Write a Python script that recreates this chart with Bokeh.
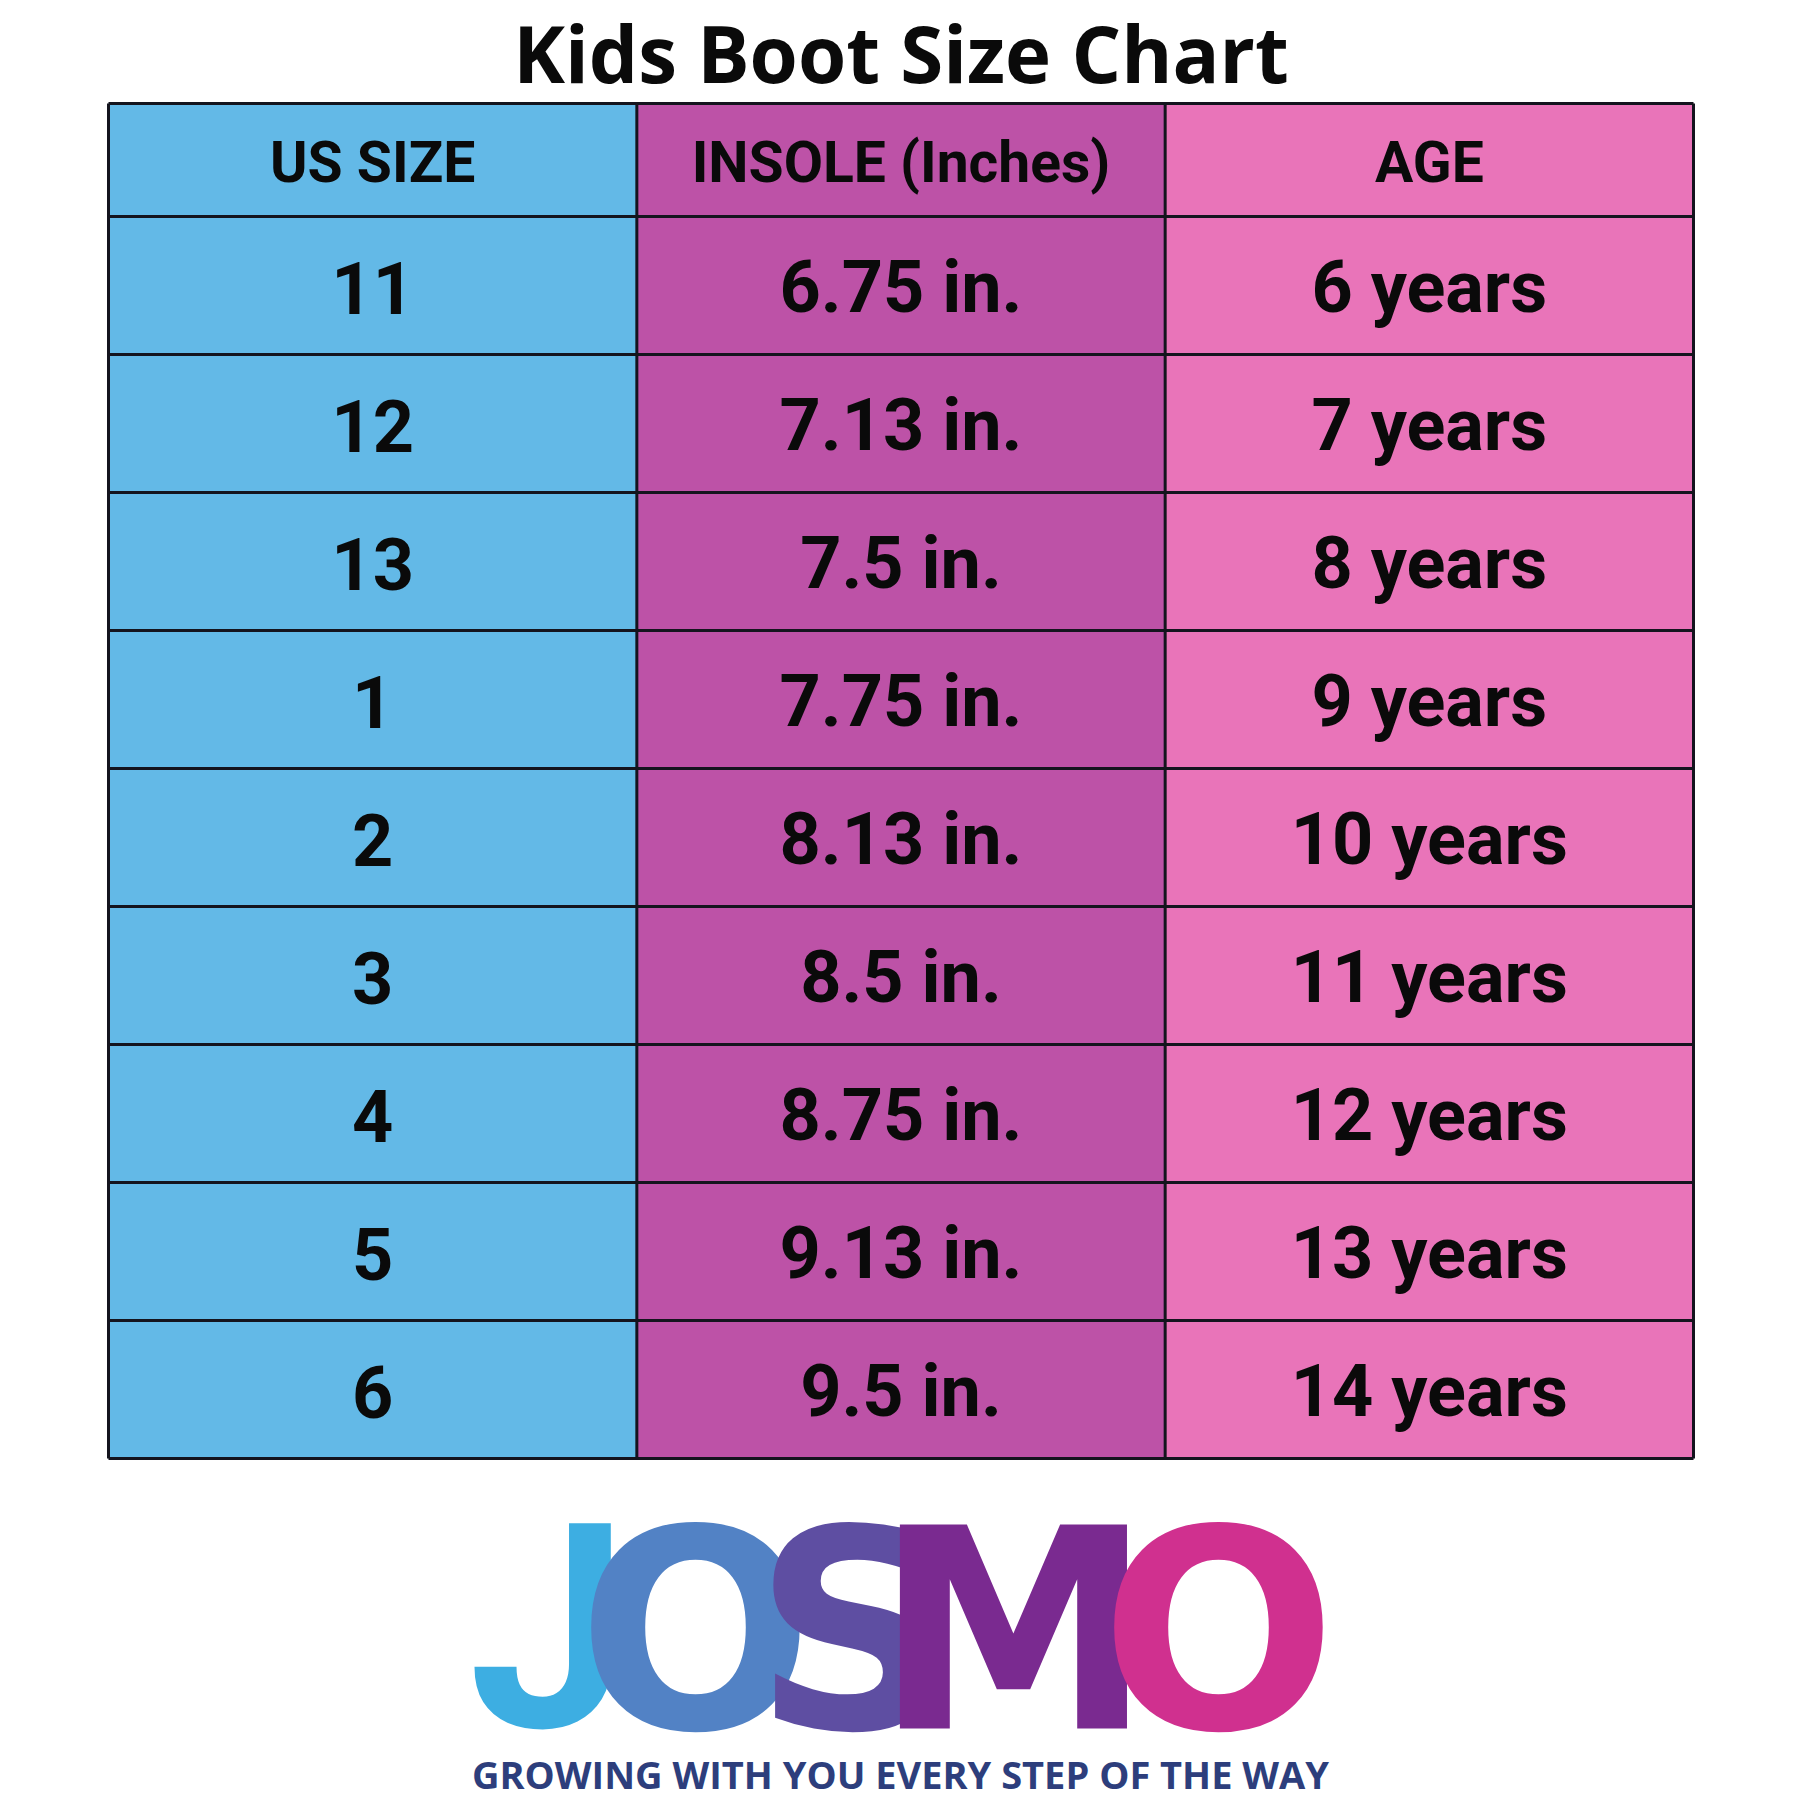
from bokeh.plotting import figure
from bokeh.models import Range1d, ColumnDataSource
from bokeh.core.properties import value
from bokeh.embed import file_html
from bokeh.resources import INLINE

# ---------------- data ----------------
title_text = "Kids Boot Size Chart"
headers = ["US SIZE", "INSOLE (Inches)", "AGE"]
us_sizes = ["11", "12", "13", "1", "2", "3", "4", "5", "6"]
insole_inches = [6.75, 7.13, 7.5, 7.75, 8.13, 8.5, 8.75, 9.13, 9.5]
age_years = [6, 7, 8, 9, 10, 11, 12, 13, 14]
logo_letters = ["J", "O", "S", "M", "O"]
tagline = "GROWING WITH YOU EVERY STEP OF THE WAY"

# ---------------- layout / style ----------------
col_colors = ["#63B9E7", "#BD52A7", "#E974B9"]
line_color = "#14141e"
cell_font = "Roboto"
X0, X1 = 108, 1693
Y_TOP, Y_HEAD = 103, 216
ROW_H = 138
ncols = 3
nrows = len(us_sizes)
col_w = (X1 - X0) / ncols
Y_BOT = Y_HEAD + ROW_H * nrows
K = 0.4  # baseline compensation (fraction of font size)

W = H = 1800
p = figure(width=W, height=H, output_backend="svg", toolbar_location=None,
           x_range=Range1d(0, W), y_range=Range1d(H, 0),
           min_border=0, outline_line_color=None, background_fill_color="white")
p.axis.visible = False
p.grid.visible = False

# column backgrounds
p.quad(left=[X0 + i * col_w for i in range(ncols)],
       right=[X0 + (i + 1) * col_w for i in range(ncols)],
       top=[Y_TOP] * ncols, bottom=[Y_BOT] * ncols,
       fill_color=col_colors, line_color=None)

# grid lines
hy = [Y_TOP, Y_HEAD] + [Y_HEAD + ROW_H * (k + 1) for k in range(nrows)]
p.segment(x0=[X0] * len(hy), x1=[X1] * len(hy), y0=hy, y1=hy,
          line_color=line_color, line_width=3)
vx = [X0 + i * col_w for i in range(ncols + 1)]
p.segment(x0=vx, x1=vx, y0=[Y_TOP] * len(vx), y1=[Y_BOT] * len(vx),
          line_color=line_color, line_width=3)

col_centers = [X0 + (i + 0.5) * col_w for i in range(ncols)]


def txt(x, y, t, size, font, color, style="bold"):
    p.text(x=x, y=[yy - K * size for yy in y], text=t, text_align="center",
           text_baseline="alphabetic", text_font=value(font),
           text_font_style=style, text_font_size=f"{size}px", text_color=color)


# title
txt([(X0 + X1) / 2], [84], [title_text], 78, "Open Sans", "#0a0a0a")

# header
txt(col_centers, [185] * 3, headers, 57, cell_font, "#0a0a0a")

# rows
insole_labels = [f"{v:g} in." for v in insole_inches]
age_labels = [f"{a} years" for a in age_years]
row_base = [Y_HEAD + ROW_H * k + ROW_H / 2 + 31 for k in range(nrows)]
for ci, labels in enumerate([us_sizes, insole_labels, age_labels]):
    txt([col_centers[ci]] * nrows, row_base, labels, 72, cell_font, "#0a0a0a")

# logo
logo_x = [548, 695, 853, 1013, 1218]
logo_fonts = ["Roboto", "DejaVu Sans", "DejaVu Sans", "DejaVu Sans", "DejaVu Sans"]
logo_sizes = [286, 278, 278, 280, 278]
logo_colors = ["#3DAEE2", "#5282C5", "#5E4EA2", "#7A2A90", "#D0308F"]
for lx, lt, lf, ls, lc in zip(logo_x, logo_letters, logo_fonts, logo_sizes, logo_colors):
    txt([lx], [1743], [lt], ls, lf, lc)

txt([900], [1789], [tagline], 38, "Open Sans", "#2D3E7C")

open("out.html", "w").write(file_html(p, INLINE))
